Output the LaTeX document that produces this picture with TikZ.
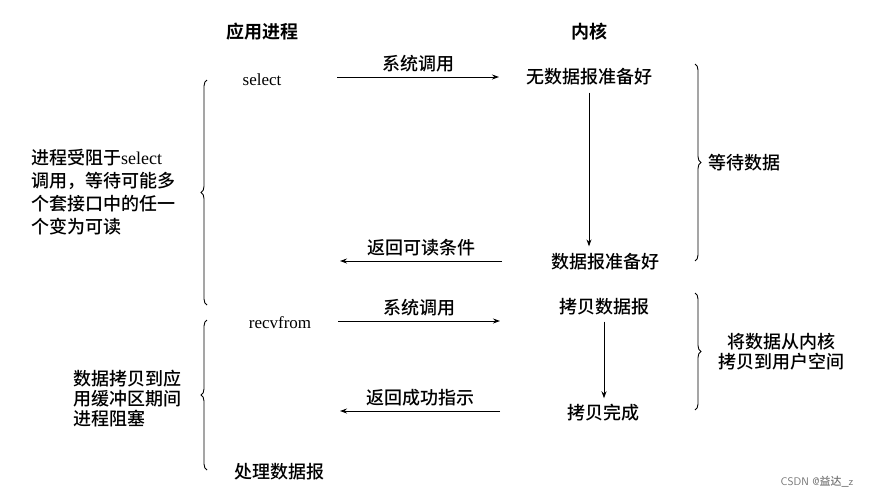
\documentclass[tikz,border=0pt]{standalone}
\usepackage{fontspec}
\setmainfont{Liberation Serif}
\newfontfamily\cjk{Noto Sans CJK SC Medium}[BoldFont={Noto Sans CJK SC Bold}]
\usetikzlibrary{arrows.meta,decorations.pathreplacing}

\begin{document}
\begin{tikzpicture}[x=1pt,y=-1pt,
    txt/.style={font={\cjk\fontsize{18}{23}\selectfont}, inner sep=1pt},
    hdr/.style={font={\cjk\bfseries\fontsize{18}{23}\selectfont}, inner sep=1pt},
    lat/.style={font={\fontsize{17}{20}\selectfont}, inner sep=1pt},
    arr/.style={-{Stealth[length=7pt,width=5pt]}, line width=0.9pt},
    brc/.style={decorate, decoration={brace, amplitude=6pt}, line width=0.9pt}]
    \useasboundingbox (0,0) rectangle (890,496);

    % column heads
    \node[hdr] (app) at (262,32) {应用进程};
    \node[hdr] (kern) at (589,32) {内核};

    % application side
    \node[lat] (sel) at (262,80) {select};
    \node[lat] (recv) at (280,323) {recvfrom};
    \node[txt] (handle) at (279,472) {处理数据报};

    % kernel side
    \node[txt] (nodata) at (589,77) {无数据报准备好};
    \node[txt] (ready) at (605,262) {数据报准备好};
    \node[txt] (copy) at (604,307) {拷贝数据报};
    \node[txt] (done) at (603,413) {拷贝完成};

    % calls and returns
    \coordinate (c1s) at (337,77);  \coordinate (c1e) at (499,77);
    \coordinate (r1s) at (502,261); \coordinate (r1e) at (340,261);
    \coordinate (c2s) at (338,321); \coordinate (c2e) at (500,321);
    \coordinate (r2s) at (500,411); \coordinate (r2e) at (340,411);
    \draw[arr] (c1s) -- node[txt, above=3pt] (call1) {系统调用} (c1e);
    \draw[arr] (r1s) -- node[txt, above=3pt] (ret1) {返回可读条件} (r1e);
    \draw[arr] (c2s) -- node[txt, above=3pt] (call2) {系统调用} (c2e);
    \draw[arr] (r2s) -- node[txt, above=3pt] (ret2) {返回成功指示} (r2e);

    \draw[arr, shorten <=6pt, shorten >=6pt] (nodata.south) -- (nodata.south |- ready.north);
    \draw[arr, shorten <=5pt, shorten >=5pt] (copy.south) -- (copy.south |- done.north);

    % braces
    \draw[brc] (695,64) -- (695,261) node[midway, right=12pt, txt] (wait) {等待数据};
    \draw[brc] (695,293) -- (695,410) node[midway, right=22pt, txt, align=center, font={\cjk\fontsize{18}{20}\selectfont}] (move) {将数据从内核\\拷贝到用户空间};
    \draw[brc] (207,305) -- (207,80);
    \draw[brc] (207,470) -- (207,320);

    \node[txt, anchor=west, align=left] (blk1) at (30,192) {进程受阻于{\rmfamily select}\\调用，等待可能多\\个套接口中的任一\\个变为可读};
    \node[txt, anchor=west, align=left, font={\cjk\fontsize{18}{20}\selectfont}] (blk2) at (72,399) {数据拷贝到应\\用缓冲区期间\\进程阻塞};

    \node[font={\sffamily\fontsize{11}{13}\selectfont}, text=black!55, inner sep=0pt] (mark) at (817,482) {CSDN @{\cjk 益达}\_z};
\end{tikzpicture}
\end{document}
